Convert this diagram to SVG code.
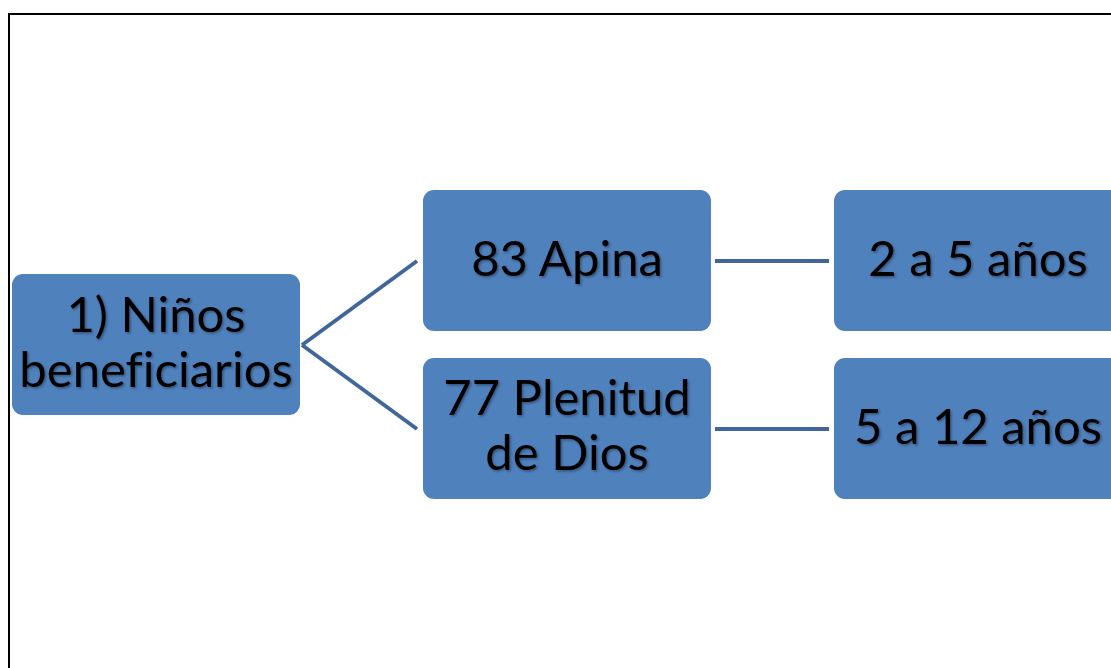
<svg xmlns="http://www.w3.org/2000/svg" width="1111" height="668" viewBox="0 0 1111 668">
  <defs>
    <filter id="ts" x="-10%" y="-10%" width="120%" height="130%">
      <feDropShadow dx="1.5" dy="1.5" stdDeviation="1" flood-color="#000" flood-opacity="0.35"/>
    </filter>
    <style>
      .node { fill: #4F81BD; }
      .lbl { font-family: Lato, "Liberation Sans", sans-serif; font-size: 49px; fill: #000; text-anchor: middle; filter: url(#ts); font-variant-ligatures: none; }
      .conn { stroke: #41679A; stroke-width: 4; fill: none; }
    </style>
  </defs>
  <rect width="1111" height="668" fill="#fff"/>
  <rect x="9" y="14" width="1200" height="700" fill="none" stroke="#000" stroke-width="2"/>
  <g id="connectors">
    <line class="conn" x1="302" y1="345" x2="417" y2="261"/>
    <line class="conn" x1="302" y1="345" x2="417" y2="429"/>
    <line class="conn" x1="715" y1="261" x2="829" y2="261"/>
    <line class="conn" x1="715" y1="429" x2="829" y2="429"/>
  </g>
  <g id="n1">
    <rect class="node" x="12" y="274" width="288" height="141" rx="11"/>
    <text class="lbl" x="156" y="332">1) Niños</text>
    <text class="lbl" x="156" y="387">beneficiarios</text>
  </g>
  <g id="n2">
    <rect class="node" x="423" y="190" width="288" height="141" rx="11"/>
    <text class="lbl" x="567" y="276">83 Apina</text>
  </g>
  <g id="n3">
    <rect class="node" x="423" y="358" width="288" height="141" rx="11"/>
    <text class="lbl" x="567" y="415">77 Plenitud</text>
    <text class="lbl" x="567" y="470">de Dios</text>
  </g>
  <g id="n4">
    <rect class="node" x="834" y="190" width="288" height="141" rx="11"/>
    <text class="lbl" x="978" y="276">2 a 5 años</text>
  </g>
  <g id="n5">
    <rect class="node" x="834" y="358" width="288" height="141" rx="11"/>
    <text class="lbl" x="978" y="444">5 a 12 años</text>
  </g>
</svg>
